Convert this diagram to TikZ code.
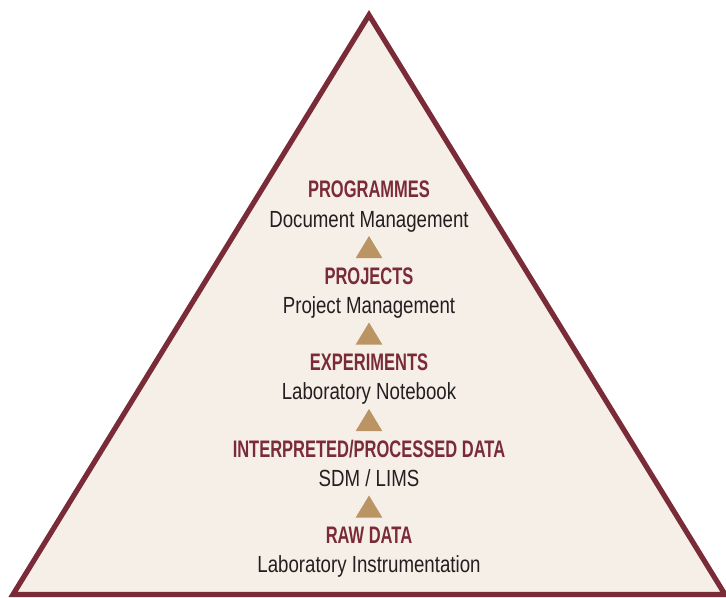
\documentclass[tikz,border=0pt]{standalone}
\usepackage{fontspec}
\setmainfont[FakeStretch=0.8]{Liberation Sans}
\newfontfamily\headfont[FakeStretch=0.69]{Liberation Sans Bold}

\definecolor{wine}{HTML}{7A2B38}
\definecolor{parchment}{HTML}{F6EFE7}
\definecolor{sand}{HTML}{BA9462}
\definecolor{ink}{HTML}{231F20}

\tikzset{
	level/.style={anchor=base, text=wine, font=\headfont\fontsize{17}{20}\selectfont},
	tool/.style={anchor=base, text=ink, font=\fontsize{16.6}{20}\selectfont},
	uptri/.style={fill=sand}
}

\begin{document}
\begin{tikzpicture}[x=0.025cm, y=-0.025cm]
	\useasboundingbox (0,0) rectangle (726,598);
	\draw[line width=3.7pt, draw=wine, fill=parchment, line join=miter] (369,15) -- (725,594.5) -- (13,594.5) -- cycle;

	\node[level] (prog) at (369,197) {PROGRAMMES};
	\node[tool] (progsub) at (369,227) {Document Management};
	\node[level] (proj) at (369,284) {PROJECTS};
	\node[tool] (projsub) at (369,313) {Project Management};
	\node[level] (expt) at (369,370) {EXPERIMENTS};
	\node[tool] (exptsub) at (369,399) {Laboratory Notebook};
	\node[level] (interp) at (369,457) {INTERPRETED/PROCESSED DATA};
	\node[tool] (interpsub) at (369,486) {SDM / LIMS};
	\node[level] (raw) at (369,543) {RAW DATA};
	\node[tool] (rawsub) at (369,572) {Laboratory Instrumentation};

	% small arrows pointing up between the levels
	\foreach \y in {247,333.5,420,506.5}
		\fill[uptri] (369,\y) ++(-13.3,11) -- ++(26.6,0) -- ++(-13.3,-22) -- cycle;
\end{tikzpicture}
\end{document}
